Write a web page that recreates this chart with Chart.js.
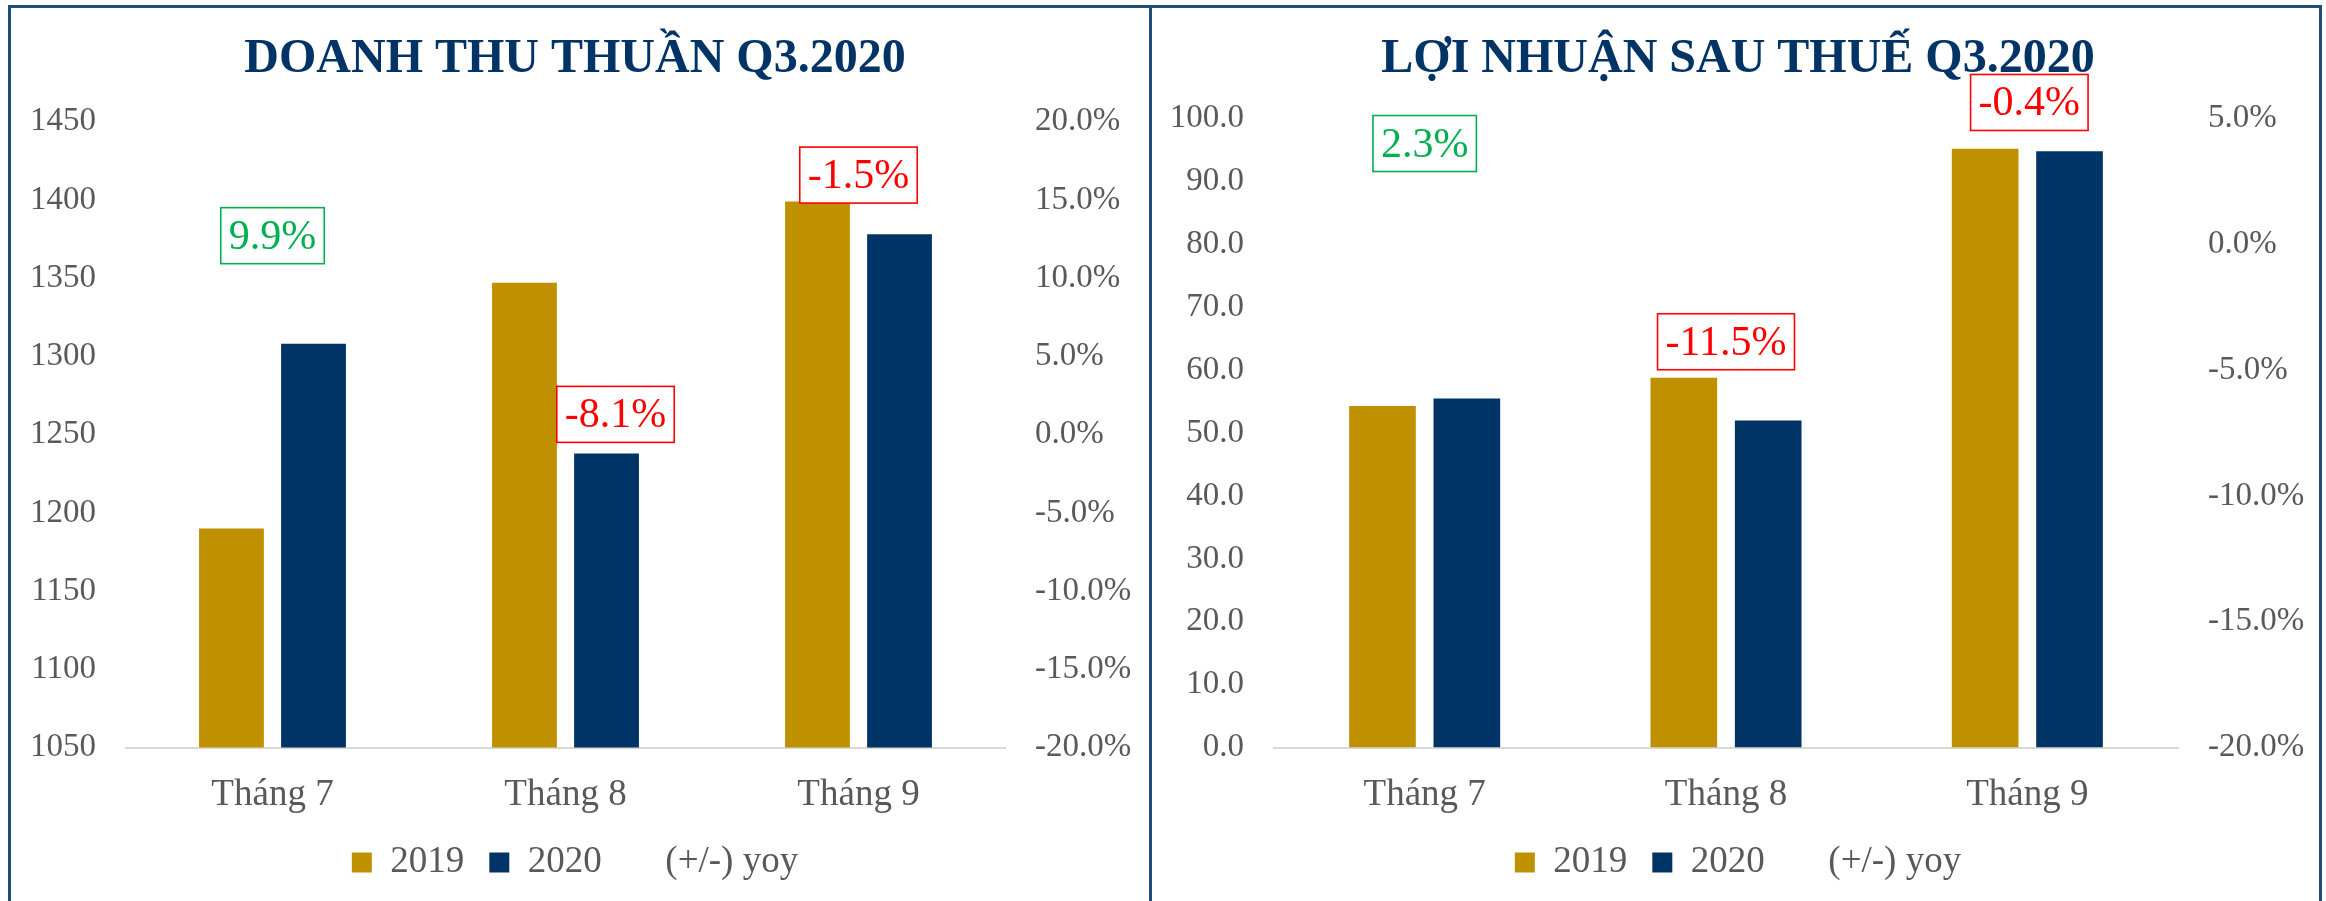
<!DOCTYPE html>
<html>
<head>
<meta charset="utf-8">
<title>Q3.2020</title>
<script src="https://cdn.jsdelivr.net/npm/chart.js@4.4.0/dist/chart.umd.min.js"></script>
<style>
    body { margin: 0; background: #ffffff; }
    #wrap { position: relative; width: 2326px; height: 901px; overflow: hidden; }
    .panel { position: absolute; top: 0; height: 901px; }
    #left_panel { left: 0; width: 1150px; }
    #right_panel { left: 1150px; width: 1176px; }
    .frame { position: absolute; background: #1f4e79; }
</style>
</head>
<body>
<div id="wrap">
    <div class="panel" id="left_panel"><canvas id="revenue_graph"></canvas></div>
    <div class="panel" id="right_panel"><canvas id="profit_graph"></canvas></div>
    <div class="frame" style="left:8px;top:5px;width:2314px;height:3px"></div>
    <div class="frame" style="left:8px;top:5px;width:3px;height:896px"></div>
    <div class="frame" style="left:1149px;top:5px;width:3px;height:896px"></div>
    <div class="frame" style="left:2319px;top:5px;width:3px;height:896px"></div>
</div>
<script>
// data
const months = ['Tháng 7', 'Tháng 8', 'Tháng 9'];
const legendNames = ['2019', '2020', '(+/-) yoy'];

const revenue2019 = [1190, 1347, 1399];
const revenue2020 = [1308, 1238, 1378];
const revenueYoy = [9.9, -8.1, -1.5];

const profit2019 = [54.3, 58.8, 95.2];
const profit2020 = [55.5, 52.0, 94.8];
const profitYoy = [2.3, -11.5, -0.4];

// axis ranges: min, max, step
const revenueAxis = [1050, 1450, 50];
const revenuePctAxis = [-20, 20, 5];
const profitAxis = [0, 100, 10];
const profitPctAxis = [-20, 5, 5];

const GOLD = '#bf9000';
const NAVY = '#003366';
const GREY = '#595959';

Chart.defaults.font.family = '"Liberation Serif", serif';
Chart.defaults.color = GREY;

/* boxed yoy labels, placed from the yoy point (moved by hand like in the excel file) */
const yoyBoxes = {
    id: 'yoyBoxes',
    afterDatasetsDraw(chart, args, opts)
    {
        let ctx = chart.ctx;
        let meta = chart.getDatasetMeta(2);
        let values = chart.data.datasets[2].data;
        ctx.save();
        ctx.font = '42px "Liberation Serif"';
        ctx.textAlign = 'center';
        ctx.textBaseline = 'middle';
        meta.data.forEach((pt, i) =>
        {
            let v = values[i];
            let txt = v.toFixed(1) + '%';
            let color = v >= 0 ? '#00b050' : '#ff0000';
            let cx = pt.x + opts.shift[i][0];
            let cy = pt.y + opts.shift[i][1];
            let w = ctx.measureText(txt).width + 16;
            let h = 56;
            ctx.fillStyle = '#ffffff';
            ctx.fillRect(cx - w / 2, cy - h / 2, w, h);
            ctx.strokeStyle = color;
            ctx.lineWidth = 1.6;
            ctx.strokeRect(cx - w / 2, cy - h / 2, w, h);
            ctx.fillStyle = color;
            ctx.fillText(txt, cx, cy + 2);
        });
        ctx.restore();
    }
};

function makeChart(canvasId, title, data19, data20, yoy, axis, pctAxis, fmt, yWidth, y1Width, titleBottom, shift)
{
    return new Chart(document.getElementById(canvasId), {
        type: 'bar',
        data: {
            labels: months,
            datasets: [{
                label: legendNames[0],
                data: data19,
                backgroundColor: GOLD,
                yAxisID: 'y',
                categoryPercentage: 0.56,
                barPercentage: 0.79
            },
            {
                label: legendNames[1],
                data: data20,
                backgroundColor: NAVY,
                yAxisID: 'y',
                categoryPercentage: 0.56,
                barPercentage: 0.79
            },
            {
                type: 'line',
                label: legendNames[2],
                data: yoy,
                yAxisID: 'y1',
                showLine: false,
                pointRadius: 0,
                borderColor: 'rgba(0,0,0,0)',
                backgroundColor: 'rgba(0,0,0,0)'
            }]
        },
        options: {
            responsive: true,
            maintainAspectRatio: false,
            animation: false,
            layout: { padding: { top: 0, bottom: 10, left: 0, right: 0 } },
            plugins: {
                title: {
                    display: true,
                    text: title,
                    color: NAVY,
                    font: { size: 48, weight: 'bold' },
                    padding: { top: 31, bottom: titleBottom }
                },
                legend: {
                    position: 'bottom',
                    labels: {
                        color: GREY,
                        font: { size: 37 },
                        boxWidth: 20,
                        boxHeight: 20,
                        padding: 25
                    }
                },
                tooltip: { enabled: false },
                yoyBoxes: { shift: shift }
            },
            scales: {
                x: {
                    grid: { display: false, drawTicks: false },
                    border: { display: true, color: '#d9d9d9', width: 2 },
                    ticks: { color: GREY, font: { size: 37 }, padding: 25 },
                    afterFit: (s) => { s.height = s.height - 23; }
                },
                y: {
                    position: 'left',
                    min: axis[0],
                    max: axis[1],
                    grid: { display: false, drawTicks: false },
                    border: { display: false },
                    ticks: { stepSize: axis[2], color: GREY, font: { size: 33 }, padding: 30, callback: fmt },
                    afterFit: (s) => { s.width = yWidth; }
                },
                y1: {
                    position: 'right',
                    min: pctAxis[0],
                    max: pctAxis[1],
                    grid: { display: false, drawTicks: false },
                    border: { display: false },
                    ticks: { stepSize: pctAxis[2], color: GREY, font: { size: 33 }, padding: 30,
                        callback: (v) => v.toFixed(1) + '%' },
                    afterFit: (s) => { s.width = y1Width; }
                }
            }
        },
        plugins: [yoyBoxes]
    });
}

//Revenue graph
makeChart('revenue_graph', 'DOANH THU THUẦN Q3.2020', revenue2019, revenue2020, revenueYoy,
    revenueAxis, revenuePctAxis, (v) => String(v), 126, 145, 33,
    [[0, -44], [50, -147], [0, -283]]);

//Profit graph
makeChart('profit_graph', 'LỢI NHUẬN SAU THUẾ Q3.2020', profit2019, profit2020, profitYoy,
    profitAxis, profitPctAxis, (v) => v.toFixed(1), 124, 148, 30,
    [[0, -43], [0, -192], [2, -152]]);
</script>
</body>
</html>
